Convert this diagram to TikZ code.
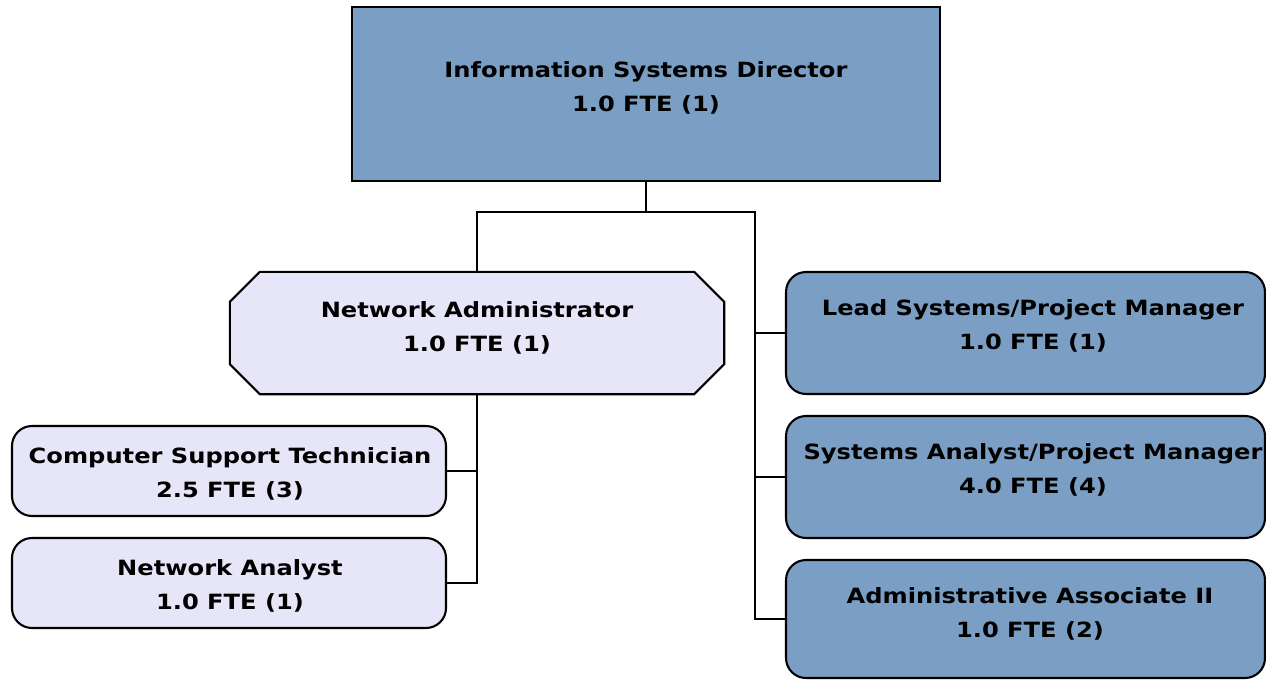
\documentclass[tikz,border=0pt]{standalone}
\usepackage{fontspec}
\setmainfont{DejaVu Sans}[FakeStretch=1.15]
\usetikzlibrary{calc}
\definecolor{topblue}{RGB}{123,159,196}
\definecolor{lavbox}{RGB}{230,230,248}
\begin{document}
\begin{tikzpicture}[x=1pt,y=-1pt,
  boxline/.style={draw=black,line width=2.1pt},
  darkbox/.style={boxline,fill=topblue,rounded corners=20pt,inner sep=0pt},
  lightbox/.style={boxline,fill=lavbox,rounded corners=20pt,inner sep=0pt},
  ttl/.style={align=center,font=\fontsize{21}{34}\selectfont\bfseries,inner sep=0pt},
  link/.style={draw=black,line width=1.9pt}]
\useasboundingbox (0,0) rectangle (1266,680);

% boxes
\node[boxline,fill=topblue,minimum width=588pt,minimum height=174pt,inner sep=0pt] (dir) at (646,94) {};
\node[minimum width=494pt,minimum height=122pt,inner sep=0pt] (netadm) at (477,333) {};
\draw[boxline,fill=lavbox]
  ($(netadm.north west)+(30,0)$) -- ($(netadm.north east)+(-30,0)$)
  -- ($(netadm.north east)+(0,30)$) -- ($(netadm.south east)+(0,-30)$)
  -- ($(netadm.south east)+(-30,0)$) -- ($(netadm.south west)+(30,0)$)
  -- ($(netadm.south west)+(0,-30)$) -- ($(netadm.north west)+(0,30)$) -- cycle;
\node[lightbox,minimum width=434pt,minimum height=90pt] (cst) at (229,471) {};
\node[lightbox,minimum width=434pt,minimum height=90pt] (na) at (229,583) {};
\node[darkbox,minimum width=479pt,minimum height=122pt] (lead) at (1025.5,333) {};
\node[darkbox,minimum width=479pt,minimum height=122pt] (sysa) at (1025.5,477) {};
\node[darkbox,minimum width=479pt,minimum height=118pt] (admin) at (1025.5,619) {};

% titles
\node[ttl] (dirT) at (646,88) {Information Systems Director\\1.0 FTE (1)};
\node[ttl] (netadmT) at (477,328) {Network Administrator\\1.0 FTE (1)};
\node[ttl] (cstT) at (230,474) {Computer Support Technician\\2.5 FTE (3)};
\node[ttl] (naT) at (230,586) {Network Analyst\\1.0 FTE (1)};
\node[ttl] (leadT) at (1033,326) {Lead Systems/Project Manager\\1.0 FTE (1)};
\node[ttl] (sysaT) at (1033,470) {Systems Analyst/Project Manager\\4.0 FTE (4)};
\node[ttl] (adminT) at (1030,614) {Administrative Associate II\\1.0 FTE (2)};

% connectors
\coordinate (bus) at (646,212);
\coordinate (rtrunk) at (755,212);
\draw[link] (dir.south) -- (bus);
\draw[link] (netadm.north) |- (bus) -| (rtrunk) |- (admin.west);
\draw[link] (rtrunk) |- (lead.west);
\draw[link] (rtrunk) |- (sysa.west);
\draw[link] (netadm.south) |- (na.east);
\draw[link] (netadm.south) |- (cst.east);
\end{tikzpicture}
\end{document}
